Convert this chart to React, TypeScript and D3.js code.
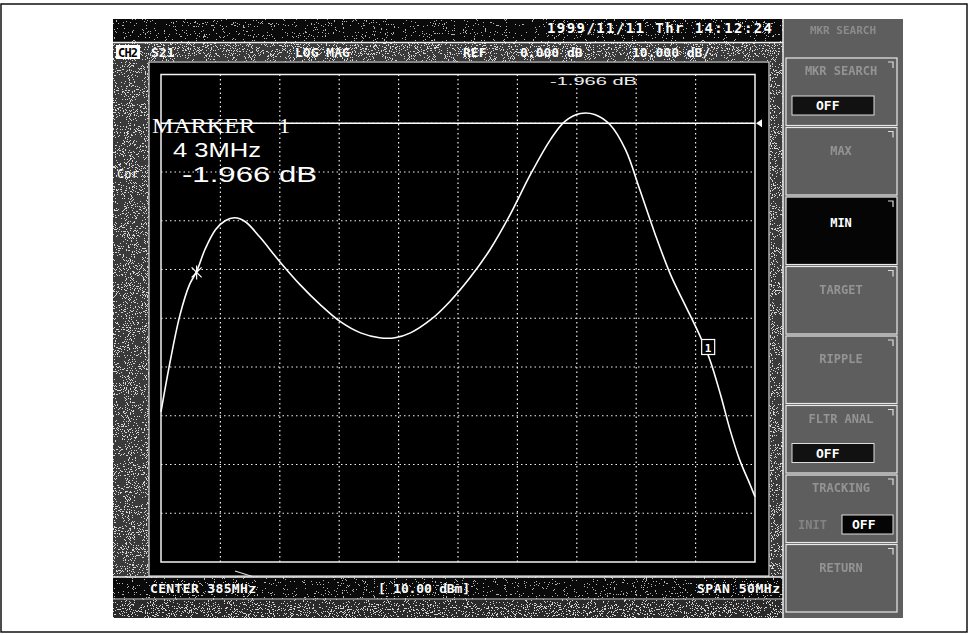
import React from "react";
import * as d3 from "d3";

// trace (S21, LOG MAG, 10 dB/div, ref 0 dB)
const freqMHz = [
  360.0, 360.8, 361.6, 362.4, 363.0, 363.7, 364.6, 365.4, 366.2, 367.1, 368.3,
  370.0, 371.7, 373.4, 375.1, 376.8, 378.4, 379.7, 381.0, 382.7, 384.3, 386.0,
  387.7, 389.4, 391.1, 392.8, 394.0, 395.3, 396.5, 397.8, 399.1, 400.3, 401.6,
  402.9, 404.1, 405.4, 406.2, 407.1, 407.9, 408.7, 409.6, 410.0,
];
const s21Db = [
  -59.2, -48.5, -39.3, -33.1, -30.4, -25.9, -21.8, -20.0, -19.4, -20.2, -23.3,
  -28.4, -33.1, -37.2, -40.7, -43.0, -44.0, -44.0, -43.0, -40.3, -36.6, -31.7,
  -25.9, -18.7, -10.5, -3.3, 0.4, 2.0, 1.8, -0.3, -5.4, -13.6, -22.8, -31.1,
  -37.2, -43.8, -48.5, -55.7, -62.9, -69.0, -74.2, -76.6,
];

const freqRange = [360, 410];
const dbRange = [10, -90];
const refDb = 0;
const starMarker = { f: 363.0, db: -30.6 };
const boxMarker = { f: 406.1, db: -46.0, label: "1" };

const dateLabel = "1999/11/11 Thr 14:12:24";
const channelLabel = "CH2";
const headerLabels = ["S21", "LOG MAG", "REF", "0.000 dB", "10.000 dB/"];
const footerLabels = ["CENTER 385MHz", "[ 10.00 dBm]", "SPAN 50MHz"];
const markerName = "MARKER";
const markerNo = "1";
const markerFreq = "4 3MHz";
const markerValue = "-1.966 dB";
const markerTopLabel = "-1.966 dB";
const corLabel = "Cor";
const panelTitle = "MKR SEARCH";
const softkeys = [
  { label: "MKR SEARCH", sub: "OFF", selected: false },
  { label: "MAX", sub: "", selected: false },
  { label: "MIN", sub: "", selected: true },
  { label: "TARGET", sub: "", selected: false },
  { label: "RIPPLE", sub: "", selected: false },
  { label: "FLTR ANAL", sub: "OFF", selected: false },
  { label: "TRACKING", sub: "INIT|OFF", selected: false },
  { label: "RETURN", sub: "", selected: false },
];

const mono = "'DejaVu Sans Mono', monospace";
const sans = "'Liberation Sans', sans-serif";

function Speckle({ id, seed, freq, cut }: { id: string; seed: number; freq: number; cut: number }) {
  return (
    <filter id={id} x="0" y="0" width="1" height="1" filterUnits="objectBoundingBox">
      <feTurbulence type="fractalNoise" baseFrequency={freq} numOctaves={2} seed={seed} />
      <feColorMatrix type="matrix" values={`0 0 0 0 1  0 0 0 0 1  0 0 0 0 1  3 0 0 0 ${-cut}`} />
      <feComponentTransfer>
        <feFuncA type="discrete" tableValues="0 1" />
      </feComponentTransfer>
    </filter>
  );
}

export default function App() {
  const width = 969;
  const height = 635;

  const x = d3.scaleLinear().domain(freqRange).range([161, 755]);
  const y = d3.scaleLinear().domain(dbRange).range([74.5, 562]);

  const pts = freqMHz.map((f, i) => [f, s21Db[i]] as [number, number]);
  const line = d3
    .line<[number, number]>()
    .x((d) => x(d[0]))
    .y((d) => y(d[1]))
    .curve(d3.curveCatmullRom.alpha(0.5));

  const vLines = d3.range(freqRange[0], freqRange[1] + 0.01, 5);
  const hLines = d3.range(dbRange[0], dbRange[1] - 0.01, -10);

  const sx = x(starMarker.f);
  const sy = y(starMarker.db);
  const bx = x(boxMarker.f);
  const by = y(boxMarker.db);

  const keyY = d3.scaleLinear().domain([0, 8]).range([57, 613]);

  return (
    <svg width={width} height={height} style={{ position: "absolute", left: 0, top: 0 }}>
      <defs>
        <Speckle id="spk-dark" seed={4} freq={0.9} cut={1.55} />
        <Speckle id="spk-mid" seed={7} freq={0.95} cut={1.35} />
        <Speckle id="spk-panel" seed={11} freq={1.0} cut={1.2} />
      </defs>
      <rect width={width} height={height} fill="#fff" />
      <rect x={1} y={4} width={966} height={628} fill="none" stroke="#111" strokeWidth={1.5} />

      {/* instrument screen */}
      <rect x={113} y={19} width={790} height={599} fill="#0a0a0a" />
      <rect x={113} y={19} width={790} height={599} filter="url(#spk-dark)" opacity={0.7} />

      {/* header strip */}
      <rect x={113} y={43} width={670} height={18} fill="#3a3a3a" />
      <rect x={113} y={43} width={670} height={18} filter="url(#spk-mid)" opacity={0.8} />
      <line x1={113} x2={783} y1={42.5} y2={42.5} stroke="#eee" strokeWidth={1.5} />

      {/* left strip + side margin */}
      <rect x={113} y={61} width={36} height={516} fill="#3a3a3a" />
      <rect x={113} y={61} width={36} height={516} filter="url(#spk-mid)" opacity={0.8} />
      <rect x={770} y={61} width={13} height={516} fill="#3a3a3a" />
      <rect x={770} y={61} width={13} height={516} filter="url(#spk-mid)" opacity={0.8} />

      {/* measurement frame */}
      <rect x={149} y={62} width={620} height={514} fill="#000" stroke="#ddd" strokeWidth={1.2} />

      {/* footer */}
      <line x1={113} x2={783} y1={577} y2={577} stroke="#eee" strokeWidth={1.5} />
      <line x1={113} x2={783} y1={599} y2={599} stroke="#ddd" strokeWidth={1.2} />
      <rect x={113} y={600} width={670} height={18} fill="#2a2a2a" />
      <rect x={113} y={600} width={670} height={18} filter="url(#spk-mid)" opacity={0.8} />

      {/* softkey panel */}
      <rect x={783} y={19} width={120} height={599} fill="#5e5e5e" />
      <rect x={783} y={19} width={120} height={599} filter="url(#spk-panel)" opacity={0.75} />
      <line x1={783} x2={783} y1={19} y2={618} stroke="#eee" strokeWidth={1.5} />
      <text x={843} y={34} fill="#aaa" fontFamily={mono} fontWeight="bold" fontSize={11} textAnchor="middle" opacity={0.6}>
        {panelTitle}
      </text>
      {softkeys.map((k, i) => {
        const y0 = keyY(i) + 1;
        const h = keyY(i + 1) - keyY(i) - 2;
        const subs = k.sub ? k.sub.split("|") : [];
        return (
          <g key={k.label}>
            <rect
              x={786}
              y={y0}
              width={111}
              height={h}
              fill={k.selected ? "#050505" : "none"}
              stroke="#e8e8e8"
              strokeWidth={1.2}
            />
            <path d={`M${888},${y0 + 4}h5v6`} stroke="#ddd" fill="none" strokeWidth={1.2} />
            <text
              x={841}
              y={y0 + (k.selected ? h / 2 - 4 : k.sub ? 17 : 27)}
              fill={k.selected ? "#fff" : "#b8b8b8"}
              opacity={k.selected ? 1 : 0.6}
              fontFamily={mono}
              fontWeight="bold"
              fontSize={12}
              textAnchor="middle"
            >
              {k.label}
            </text>
            {subs.length === 1 && (
              <g>
                <rect x={792} y={y0 + 38} width={82} height={19} fill="#111" stroke="#ddd" strokeWidth={1} />
                <text x={816} y={y0 + 52} fill="#fff" fontFamily={mono} fontWeight="bold" fontSize={13}>
                  {subs[0]}
                </text>
              </g>
            )}
            {subs.length === 2 && (
              <g>
                <text x={798} y={y0 + 54} fill="#aaa" opacity={0.5} fontFamily={mono} fontWeight="bold" fontSize={12}>
                  {subs[0]}
                </text>
                <rect x={842} y={y0 + 40} width={51} height={19} fill="#050505" stroke="#ddd" strokeWidth={1} />
                <text x={852} y={y0 + 54} fill="#fff" fontFamily={mono} fontWeight="bold" fontSize={13}>
                  {subs[1]}
                </text>
              </g>
            )}
          </g>
        );
      })}

      {/* header texts */}
      <text x={547} y={33} fill="#fff" fontFamily={mono} fontWeight="bold" fontSize={14} textLength={225}>
        {dateLabel}
      </text>
      <rect x={116} y={45} width={24} height={14} fill="#fff" />
      <text x={118} y={56.5} fill="#000" fontFamily={mono} fontWeight="bold" fontSize={12} textLength={20}>
        {channelLabel}
      </text>
      {headerLabels.map((t, i) => {
        const xs = [151, 295, 463, 520, 632];
        return (
          <text key={t} x={xs[i]} y={57} fill="#fff" fontFamily={mono} fontWeight="bold" fontSize={13}>
            {t}
          </text>
        );
      })}
      <text x={117} y={178} fill="#fff" fontFamily={mono} fontSize={12}>
        {corLabel}
      </text>

      {/* graticule */}
      <g stroke="#f2f2f2" strokeWidth={1.2} strokeDasharray="1.5 3">
        {vLines.slice(1, -1).map((f) => (
          <line key={`v${f}`} x1={x(f)} x2={x(f)} y1={y(dbRange[0])} y2={y(dbRange[1])} />
        ))}
        {hLines.slice(1, -1).map((d) => (
          <line key={`h${d}`} x1={x(freqRange[0])} x2={x(freqRange[1])} y1={y(d)} y2={y(d)} />
        ))}
      </g>
      <rect
        x={x(freqRange[0])}
        y={y(dbRange[0])}
        width={x(freqRange[1]) - x(freqRange[0])}
        height={y(dbRange[1]) - y(dbRange[0])}
        fill="none"
        stroke="#f2f2f2"
        strokeWidth={1.5}
      />
      {/* reference line */}
      <line x1={x(freqRange[0])} x2={x(freqRange[1])} y1={y(refDb)} y2={y(refDb)} stroke="#fff" strokeWidth={1.6} />
      <path d={`M${x(freqRange[1]) + 1},${y(refDb)} l6,-4 v8 z`} fill="#fff" />
      <text x={550} y={85} fill="#eee" fontFamily={sans} fontSize={11} textLength={87} lengthAdjust="spacingAndGlyphs">
        {markerTopLabel}
      </text>
      <line x1={235} y1={571} x2={254} y2={577} stroke="#ddd" strokeWidth={1.2} />

      {/* trace */}
      <path d={line(pts) ?? ""} fill="none" stroke="#fff" strokeWidth={1.6} />

      {/* markers */}
      <g stroke="#fff" strokeWidth={1.2}>
        <line x1={sx - 5} y1={sy - 5} x2={sx + 5} y2={sy + 5} />
        <line x1={sx - 5} y1={sy + 5} x2={sx + 5} y2={sy - 5} />
        <line x1={sx} y1={sy - 7} x2={sx} y2={sy + 7} />
      </g>
      <rect x={bx - 7} y={by - 8} width={13} height={15} fill="#000" stroke="#fff" strokeWidth={1.2} />
      <text x={bx - 0.5} y={by + 4} fill="#fff" fontFamily={mono} fontWeight="bold" fontSize={11} textAnchor="middle">
        {boxMarker.label}
      </text>

      {/* marker readout */}
      <text x={152} y={133} fill="#fff" fontFamily="'Liberation Serif', serif" fontSize={22} textLength={103} lengthAdjust="spacingAndGlyphs">
        {markerName}
      </text>
      <text x={279} y={133} fill="#fff" fontFamily="'Liberation Serif', serif" fontSize={22}>
        {markerNo}
      </text>
      <text x={173} y={157} fill="#fff" fontFamily={sans} fontSize={20} textLength={88} lengthAdjust="spacingAndGlyphs">
        {markerFreq}
      </text>
      <text x={182} y={182} fill="#fff" fontFamily={sans} fontSize={22} textLength={135} lengthAdjust="spacingAndGlyphs">
        {markerValue}
      </text>

      {/* footer texts */}
      {footerLabels.map((t, i) => {
        const xs = [150, 378, 697];
        const lens = [106, 92, 83];
        return (
          <text key={t} x={xs[i]} y={593} fill="#fff" fontFamily={mono} fontWeight="bold" fontSize={13} textLength={lens[i]}>
            {t}
          </text>
        );
      })}
    </svg>
  );
}
